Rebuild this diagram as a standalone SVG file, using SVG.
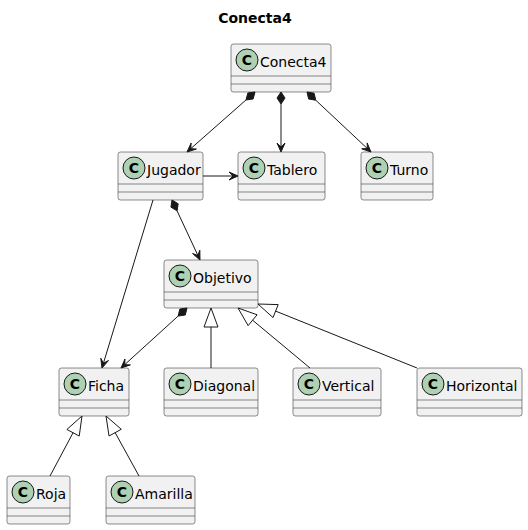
<svg xmlns="http://www.w3.org/2000/svg" width="528" height="530" viewBox="0 0 528 530">
<style>
.box{fill:#F1F1F1;stroke:#181818;stroke-width:0.5}
.sep{stroke:#181818;stroke-width:0.5}
.circ{fill:#ADD1B2;stroke:#181818;stroke-width:1}
.cl{font-family:"DejaVu Sans",sans-serif;font-size:14px;font-weight:bold;fill:#000;text-anchor:middle}
.nm{font-family:"DejaVu Sans",sans-serif;font-size:14px;fill:#000}
.title{font-family:"DejaVu Sans",sans-serif;font-size:14px;font-weight:bold;fill:#000;text-anchor:middle}
.ln{stroke:#181818;stroke-width:1;fill:none}
.hd{fill:#181818;stroke:#181818;stroke-width:1}
.tri{fill:none;stroke:#181818;stroke-width:1}
</style>
<rect width="528" height="530" fill="#FFFFFF"/>
<text class="title" x="255" y="23">Conecta4</text>

<g id="Conecta4">
<rect class="box" x="231" y="44" width="100" height="48" rx="2.5"/>
<circle class="circ" cx="247" cy="60" r="11"/><text class="cl" x="247" y="65">C</text>
<text class="nm" x="260" y="67">Conecta4</text>
<line class="sep" x1="231" y1="76" x2="331" y2="76"/><line class="sep" x1="231" y1="84" x2="331" y2="84"/>
</g>
<g id="Jugador">
<rect class="box" x="118" y="152" width="85" height="48" rx="2.5"/>
<circle class="circ" cx="134" cy="168" r="11"/><text class="cl" x="134" y="173">C</text>
<text class="nm" x="147" y="175">Jugador</text>
<line class="sep" x1="118" y1="184" x2="203" y2="184"/><line class="sep" x1="118" y1="192" x2="203" y2="192"/>
</g>
<g id="Tablero">
<rect class="box" x="238" y="152" width="87" height="48" rx="2.5"/>
<circle class="circ" cx="254" cy="168" r="11"/><text class="cl" x="254" y="173">C</text>
<text class="nm" x="267" y="175">Tablero</text>
<line class="sep" x1="238" y1="184" x2="325" y2="184"/><line class="sep" x1="238" y1="192" x2="325" y2="192"/>
</g>
<g id="Turno">
<rect class="box" x="361" y="152" width="72" height="48" rx="2.5"/>
<circle class="circ" cx="377" cy="168" r="11"/><text class="cl" x="377" y="173">C</text>
<text class="nm" x="390" y="175">Turno</text>
<line class="sep" x1="361" y1="184" x2="433" y2="184"/><line class="sep" x1="361" y1="192" x2="433" y2="192"/>
</g>
<g id="Objetivo">
<rect class="box" x="164" y="260" width="94" height="48" rx="2.5"/>
<circle class="circ" cx="180" cy="276" r="11"/><text class="cl" x="180" y="281">C</text>
<text class="nm" x="193" y="283">Objetivo</text>
<line class="sep" x1="164" y1="292" x2="258" y2="292"/><line class="sep" x1="164" y1="300" x2="258" y2="300"/>
</g>
<g id="Ficha">
<rect class="box" x="59" y="368" width="70" height="48" rx="2.5"/>
<circle class="circ" cx="75" cy="384" r="11"/><text class="cl" x="75" y="389">C</text>
<text class="nm" x="88" y="391">Ficha</text>
<line class="sep" x1="59" y1="400" x2="129" y2="400"/><line class="sep" x1="59" y1="408" x2="129" y2="408"/>
</g>
<g id="Diagonal">
<rect class="box" x="164" y="368" width="94" height="48" rx="2.5"/>
<circle class="circ" cx="180" cy="384" r="11"/><text class="cl" x="180" y="389">C</text>
<text class="nm" x="193" y="391">Diagonal</text>
<line class="sep" x1="164" y1="400" x2="258" y2="400"/><line class="sep" x1="164" y1="408" x2="258" y2="408"/>
</g>
<g id="Vertical">
<rect class="box" x="293" y="368" width="88" height="48" rx="2.5"/>
<circle class="circ" cx="309" cy="384" r="11"/><text class="cl" x="309" y="389">C</text>
<text class="nm" x="322" y="391">Vertical</text>
<line class="sep" x1="293" y1="400" x2="381" y2="400"/><line class="sep" x1="293" y1="408" x2="381" y2="408"/>
</g>
<g id="Horizontal">
<rect class="box" x="417" y="368" width="105" height="48" rx="2.5"/>
<circle class="circ" cx="433" cy="384" r="11"/><text class="cl" x="433" y="389">C</text>
<text class="nm" x="446" y="391">Horizontal</text>
<line class="sep" x1="417" y1="400" x2="522" y2="400"/><line class="sep" x1="417" y1="408" x2="522" y2="408"/>
</g>
<g id="Roja">
<rect class="box" x="7" y="476" width="63" height="48" rx="2.5"/>
<circle class="circ" cx="23" cy="492" r="11"/><text class="cl" x="23" y="497">C</text>
<text class="nm" x="36" y="499">Roja</text>
<line class="sep" x1="7" y1="508" x2="70" y2="508"/><line class="sep" x1="7" y1="516" x2="70" y2="516"/>
</g>
<g id="Amarilla">
<rect class="box" x="106" y="476" width="89" height="48" rx="2.5"/>
<circle class="circ" cx="122" cy="492" r="11"/><text class="cl" x="122" y="497">C</text>
<text class="nm" x="135" y="499">Amarilla</text>
<line class="sep" x1="106" y1="508" x2="195" y2="508"/><line class="sep" x1="106" y1="516" x2="195" y2="516"/>
</g>

<g id="connectors">
<line class="ln" x1="246" y1="99.94" x2="189" y2="150.2"/>
<polygon class="hd" points="255,92 253.15,98.97 246,99.94 247.85,92.97"/>
<polygon class="hd" points="187,152 196.4,149.04 190.75,148.69 191.1,143.04"/>
<line class="ln" x1="281" y1="104" x2="281" y2="149"/>
<polygon class="hd" points="281,92 285,98 281,104 277,98"/>
<polygon class="hd" points="281,152 285,143 281,147 277,143"/>
<line class="ln" x1="315.76" y1="100.21" x2="369" y2="150.1"/>
<polygon class="hd" points="307,92 308.64,99.02 315.76,100.21 314.12,93.18"/>
<polygon class="hd" points="371,152 361.69,148.76 367.35,148.58 367.17,142.92"/>
<line class="ln" x1="203" y1="176" x2="235" y2="176"/>
<polygon class="hd" points="238,176 229,172 233,176 229,180"/>
<line class="ln" x1="177.08" y1="210.87" x2="198.8" y2="257.4"/>
<polygon class="hd" points="172,200 170.92,207.13 177.08,210.87 178.16,203.75"/>
<polygon class="hd" points="200,260 192.57,253.54 197.88,255.47 199.81,250.16"/>
<line class="ln" x1="153" y1="200" x2="102.9" y2="365"/>
<polygon class="hd" points="102,368 108.44,360.55 103.45,363.22 100.78,358.23"/>
<line class="ln" x1="178.12" y1="316.07" x2="123.2" y2="366"/>
<polygon class="hd" points="187,308 185.25,315 178.12,316.07 179.87,309.08"/>
<polygon class="hd" points="121,368 130.35,364.9 124.7,364.63 124.97,358.98"/>
<line class="ln" x1="211" y1="368" x2="211" y2="327"/>
<polygon class="tri" points="211,308 204,327 218,327"/>
<line class="ln" x1="252.6" y1="320.2" x2="310" y2="368"/>
<polygon class="tri" points="238,308 248.1,325.6 257.1,314.8"/>
<line class="ln" x1="275.6" y1="311.1" x2="417" y2="368"/>
<polygon class="tri" points="258,304 273,317.6 278.2,304.6"/>
<line class="ln" x1="73.05" y1="432.76" x2="50" y2="476"/>
<polygon class="tri" points="82,416 66.88,429.46 79.22,436.06"/>
<line class="ln" x1="115.16" y1="432.64" x2="139" y2="476"/>
<polygon class="tri" points="106,416 109.03,436.01 121.29,429.27"/>
</g>
</svg>
